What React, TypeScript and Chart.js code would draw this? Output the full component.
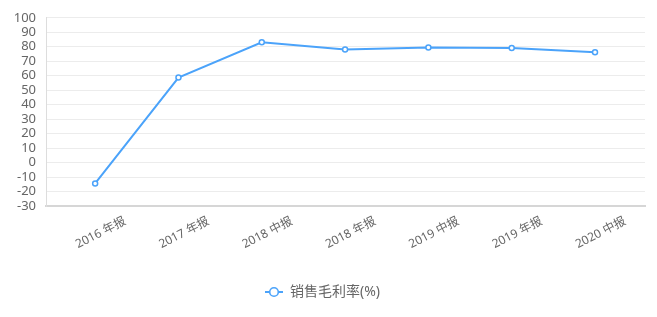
import React, { useEffect, useRef } from "react";
import { Chart, registerables } from "chart.js";

Chart.register(...registerables);

const categories = ["2016 年报", "2017 年报", "2018 中报", "2018 年报", "2019 中报", "2019 年报", "2020 中报"];
const grossMargin = [-14.4, 58.7, 83.1, 78.1, 79.5, 79.2, 76.2];
const seriesName = "销售毛利率(%)";
const yMin = -30;
const yMax = 100;
const yStep = 10;

const BLUE = "#4ba3fa";
const FONT = '"Noto Sans", "Noto Sans CJK SC", sans-serif';

function makeLegendIcon(): HTMLCanvasElement {
  const c = document.createElement("canvas");
  c.width = 18;
  c.height = 12;
  const ctx = c.getContext("2d")!;
  ctx.strokeStyle = BLUE;
  ctx.lineWidth = 2;
  ctx.beginPath();
  ctx.moveTo(0, 6);
  ctx.lineTo(18, 6);
  ctx.stroke();
  ctx.beginPath();
  ctx.arc(9, 6, 4.3, 0, Math.PI * 2);
  ctx.fillStyle = "#ffffff";
  ctx.fill();
  ctx.lineWidth = 1.6;
  ctx.stroke();
  return c;
}

export default function App() {
  const ref = useRef<HTMLCanvasElement | null>(null);

  useEffect(() => {
    if (!ref.current) return;
    const icon = makeLegendIcon();
    const chart = new Chart(ref.current, {
      type: "line",
      data: {
        datasets: [
          {
            label: seriesName,
            data: grossMargin.map((v, i) => ({ x: i, y: v })),
            borderColor: BLUE,
            backgroundColor: "#ffffff",
            borderWidth: 2,
            pointRadius: 2.5,
            pointBorderWidth: 1.5,
            pointBackgroundColor: "#ffffff",
            pointBorderColor: BLUE,
            tension: 0,
          },
        ],
      },
      options: {
        animation: false,
        responsive: true,
        maintainAspectRatio: false,
        layout: { padding: { left: 0, right: 12, top: 17, bottom: 8 } },
        plugins: {
          tooltip: { enabled: false },
          legend: {
            position: "bottom",
            labels: {
              usePointStyle: true,
              pointStyleWidth: 18,
              padding: 10,
              color: "#666666",
              font: { family: FONT, size: 14 },
              generateLabels: (ch: any) => {
                const items = Chart.defaults.plugins.legend.labels.generateLabels(ch);
                return items.map((it: any) => ({ ...it, pointStyle: icon, fontColor: "#666666" }));
              },
            },
          },
        },
        scales: {
          x: {
            type: "linear",
            min: -0.59,
            max: 6.6,
            grid: { display: false, drawTicks: false },
            border: { display: true, color: "#d6d6d6", width: 2 },
            afterFit: (s: any) => {
              s.height = 69;
            },
            ticks: {
              stepSize: 1,
              autoSkip: false,
              includeBounds: false,
              minRotation: 27,
              maxRotation: 27,
              labelOffset: 30,
              padding: 8,
              color: "#666666",
              font: { family: FONT, size: 12 },
              callback: (v: any) => (Number.isInteger(v) && categories[v] !== undefined ? categories[v] : ""),
            },
          },
          y: {
            min: yMin,
            max: yMax,
            afterFit: (s: any) => {
              s.width = 46;
            },
            grid: { color: "#ececec", lineWidth: 1, drawTicks: false },
            border: { display: true, color: "#dddddd", width: 1 },
            ticks: {
              stepSize: yStep,
              autoSkip: false,
              padding: 10,
              color: "#666666",
              font: { family: FONT, size: 13 },
            },
          },
        },
      },
    });
    return () => chart.destroy();
  }, []);

  return (
    <div style={{ position: "absolute", left: 0, top: 0, width: 657, height: 317 }}>
      <canvas ref={ref} />
    </div>
  );
}
